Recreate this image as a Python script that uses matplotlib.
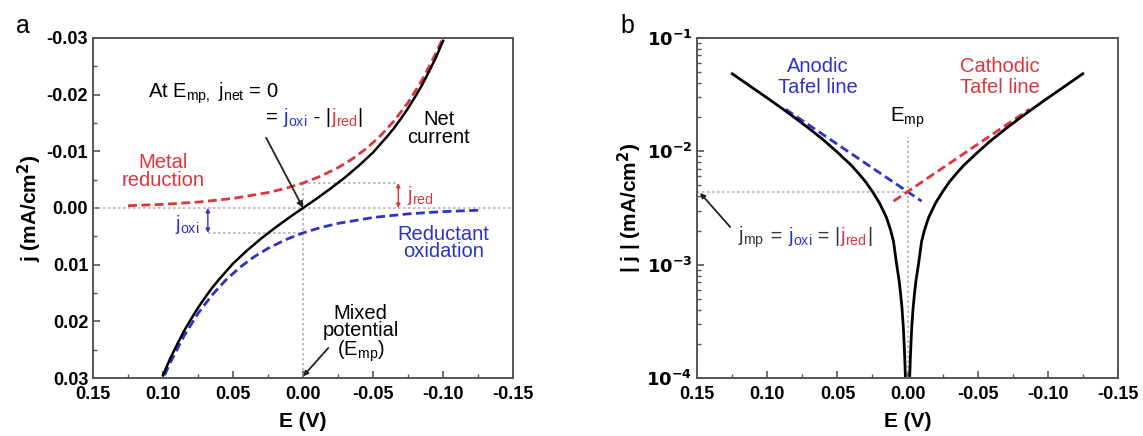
import matplotlib
matplotlib.use("Agg")
import matplotlib.pyplot as plt
from matplotlib.ticker import MultipleLocator, FixedLocator, FixedFormatter, LogLocator, NullFormatter
from matplotlib.offsetbox import TextArea, HPacker, AnnotationBbox

plt.rcParams['font.family'] = ['Liberation Sans', 'DejaVu Sans']
plt.rcParams['mathtext.default'] = 'regular'

RED = '#e0343c'
BLUE = '#2d32c8'
GUIDE = '#b4b4b4'
FS = 14.5

# panel a: partial currents and net current
E_red = [0.125, 0.10, 0.075, 0.05, 0.025, 0.0125, 0.0, -0.0125, -0.025, -0.035, -0.045, -0.055,
         -0.065, -0.075, -0.085, -0.095, -0.10]
j_red = [-0.0004, -0.00064, -0.00104, -0.00168, -0.00272, -0.00346, -0.0044, -0.0056, -0.00712,
         -0.00862, -0.01045, -0.01267, -0.01536, -0.0186, -0.02257, -0.02735, -0.0301]
E_oxi = [-0.125, -0.10, -0.075, -0.05, -0.025, -0.0125, 0.0, 0.0125, 0.025, 0.035, 0.045, 0.055,
         0.065, 0.075, 0.085, 0.095, 0.10]
j_oxi = [0.0004, 0.00064, 0.00104, 0.00168, 0.00272, 0.00346, 0.0044, 0.0056, 0.00712,
         0.00862, 0.01045, 0.01267, 0.01536, 0.0186, 0.02257, 0.02735, 0.0301]
E_net = [0.10, 0.095, 0.09, 0.085, 0.08, 0.075, 0.07, 0.065, 0.06, 0.05, 0.04, 0.03, 0.02, 0.01, 0.0,
         -0.01, -0.02, -0.03, -0.04, -0.05, -0.06, -0.065, -0.07, -0.075, -0.08, -0.085, -0.09,
         -0.095, -0.10]
j_net = [0.0295, 0.0266, 0.0241, 0.0217, 0.0196, 0.0176, 0.0158, 0.0141, 0.0126, 0.0098, 0.0075,
         0.0054, 0.0035, 0.0017, 0.0,
         -0.0017, -0.0035, -0.0054, -0.0075, -0.0098, -0.0126, -0.0141, -0.0158, -0.0176, -0.0196,
         -0.0217, -0.0241, -0.0266, -0.0295]
j_mp = 0.0044

# panel b: |j| of net current on log scale
E_abs = [0.125, 0.11, 0.10, 0.09, 0.08, 0.07, 0.06, 0.05, 0.04, 0.035, 0.03, 0.025, 0.02, 0.015,
         0.012, 0.010, 0.008, 0.006, 0.005, 0.004, 0.003, 0.0025, 0.002, 0.0015, 0.001, 0.0,
         -0.001, -0.0015, -0.002, -0.0025, -0.003, -0.004, -0.005, -0.006, -0.008, -0.010, -0.012,
         -0.015, -0.02, -0.025, -0.03, -0.035, -0.04, -0.05, -0.06, -0.07, -0.08, -0.09, -0.10,
         -0.11, -0.125]
j_abs = [0.0483, 0.0359, 0.0295, 0.0241, 0.0196, 0.0158, 0.0126, 0.0098, 0.0075, 0.0064, 0.0054,
         0.0044, 0.0035, 0.0026, 0.0020, 0.0016, 0.00105, 0.00072, 0.00056, 0.00042, 0.00028,
         0.00021, 0.00015, 0.0001, 0.00005, 0.000001,
         0.00005, 0.0001, 0.00015, 0.00021, 0.00028, 0.00042, 0.00056, 0.00072, 0.00105, 0.0016,
         0.0020, 0.0026, 0.0035, 0.0044, 0.0054, 0.0064, 0.0075, 0.0098, 0.0126, 0.0158, 0.0196,
         0.0241, 0.0295, 0.0359, 0.0483]
E_anodic = [0.087, -0.010]
j_anodic = [0.0235, 0.00363]
E_cathodic = [0.010, -0.087]
j_cathodic = [0.00363, 0.0235]

x_ticks = [0.15, 0.10, 0.05, 0.00, -0.05, -0.10, -0.15]
a_yticks = [-0.03, -0.02, -0.01, 0.00, 0.01, 0.02, 0.03]
b_yticks = [1e-4, 1e-3, 1e-2, 1e-1]
b_ylabels = [r'$\mathbf{10^{-4}}$', r'$\mathbf{10^{-3}}$', r'$\mathbf{10^{-2}}$', r'$\mathbf{10^{-1}}$']


def colored(ax, xy, parts, size=FS):
    boxes = [TextArea(t, textprops=dict(color=c, fontsize=size)) for t, c in parts]
    pack = HPacker(children=boxes, align='baseline', pad=0, sep=0)
    ab = AnnotationBbox(pack, xy, xycoords='data', frameon=False, box_alignment=(0.5, 0.5), pad=0)
    ax.add_artist(ab)


def style_axis(ax):
    for s in ax.spines.values():
        s.set_color('#555555')
        s.set_linewidth(1.4)
    ax.tick_params(which='both', direction='in', top=False, right=False, color='#555555',
                   labelsize=13)
    ax.tick_params(which='major', length=5, width=1.2)
    ax.tick_params(which='minor', length=3, width=1.0)
    ax.tick_params(axis='x', pad=6)
    ax.set_xlim(0.15, -0.15)
    ax.xaxis.set_major_locator(FixedLocator(x_ticks))
    ax.xaxis.set_minor_locator(MultipleLocator(0.025))
    ax.set_xticklabels(['%.2f' % v for v in x_ticks], fontweight='bold')
    ax.set_xlabel('E (V)', fontsize=15, fontweight='bold', labelpad=6)


fig = plt.figure(figsize=(11.43, 4.36), dpi=100)
ax1 = fig.add_axes([0.0814, 0.133, 0.3675, 0.78])
ax2 = fig.add_axes([0.610, 0.133, 0.368, 0.78])

# ---- panel a ----
style_axis(ax1)
ax1.set_ylim(0.03, -0.03)
ax1.yaxis.set_major_locator(FixedLocator(a_yticks))
ax1.yaxis.set_minor_locator(MultipleLocator(0.005))
ax1.set_yticklabels(['%.2f' % v for v in a_yticks], fontweight='bold')
ax1.set_ylabel(r'j (mA/cm$^{\mathbf{2}}$)', fontsize=15, fontweight='bold', labelpad=2)

gl = dict(color=GUIDE, lw=1.2, dashes=(1.5, 1.5))
ax1.axhline(0, **gl)
ax1.plot([0, 0], [-j_mp, 0.03], **gl)
ax1.plot([0, -0.068], [-j_mp, -j_mp], **gl)
ax1.plot([0.068, 0], [j_mp, j_mp], **gl)

ax1.plot(E_red, j_red, color=RED, lw=2, dashes=(3.2, 1.6))
ax1.plot(E_oxi, j_oxi, color=BLUE, lw=2, dashes=(3.2, 1.6))
ax1.plot(E_net, j_net, color='black', lw=1.8)

ax1.annotate('', xy=(-0.068, 0.0), xytext=(-0.068, -j_mp),
             arrowprops=dict(arrowstyle='<|-|>', color=RED, lw=1, mutation_scale=6, shrinkA=0, shrinkB=0))
ax1.text(-0.074, -0.0022, r'j$_{red}$', color=RED, fontsize=FS, ha='left', va='center')
ax1.annotate('', xy=(0.068, 0.0), xytext=(0.068, j_mp),
             arrowprops=dict(arrowstyle='<|-|>', color=BLUE, lw=1, mutation_scale=6, shrinkA=0, shrinkB=0))
ax1.text(0.074, 0.0029, r'j$_{oxi}$', color=BLUE, fontsize=FS, ha='right', va='center')

ax1.text(0.064, -0.0203, r'At E$_{mp,}$ j$_{net}$ = 0', fontsize=FS, ha='center', va='center')
colored(ax1, (-0.008, -0.0160), [('= ', 'black'), (r'j$_{oxi}$', BLUE), (' - |', 'black'),
                                 (r'j$_{red}$', RED), ('|', 'black')])
ax1.annotate('', xy=(0.0, 0.0), xytext=(0.0264, -0.0124),
             arrowprops=dict(arrowstyle='-|>', color='#222222', lw=1.3, mutation_scale=9,
                             shrinkA=0, shrinkB=0))

ax1.text(-0.097, -0.0140, 'Net\ncurrent', fontsize=FS, ha='center', va='center', linespacing=0.9)
ax1.text(0.10, -0.0064, 'Metal\nreduction', fontsize=FS, color=RED, ha='center', va='center',
         linespacing=0.9)
ax1.text(-0.100, 0.0062, 'Reductant\noxidation', fontsize=FS, color=BLUE, ha='center', va='center',
         linespacing=0.9)
ax1.text(-0.041, 0.0222, 'Mixed\npotential\n(E$_{mp}$)', fontsize=FS, ha='center', va='center',
         linespacing=0.9)
ax1.annotate('', xy=(0.0, 0.0297), xytext=(-0.018, 0.0247),
             arrowprops=dict(arrowstyle='-|>', color='#222222', lw=1.3, mutation_scale=7,
                             shrinkA=0, shrinkB=0))
fig.text(0.020, 0.94, 'a', fontsize=18, ha='center', va='center')

# ---- panel b ----
style_axis(ax2)
ax2.set_yscale('log')
ax2.set_ylim(1e-4, 1e-1)
ax2.yaxis.set_major_locator(FixedLocator(b_yticks))
ax2.yaxis.set_major_formatter(FixedFormatter(b_ylabels))
ax2.yaxis.set_minor_locator(LogLocator(base=10, subs=range(2, 10)))
ax2.yaxis.set_minor_formatter(NullFormatter())
ax2.set_ylabel(r'| j | (mA/cm$^{\mathbf{2}}$)', fontsize=15, fontweight='bold', labelpad=2)

ax2.plot([0.15, 0], [j_mp, j_mp], **gl)
ax2.plot([0, 0], [1e-4, 0.0135], **gl)
ax2.plot(E_anodic, j_anodic, color=BLUE, lw=2, dashes=(3.2, 1.6))
ax2.plot(E_cathodic, j_cathodic, color=RED, lw=2, dashes=(3.2, 1.6))
ax2.plot(E_abs, j_abs, color='black', lw=2)

ax2.text(0.064, 0.0453, 'Anodic\nTafel line', fontsize=FS, color=BLUE, ha='center', va='center',
         linespacing=1.1)
ax2.text(-0.066, 0.0453, 'Cathodic\nTafel line', fontsize=FS, color=RED, ha='center', va='center',
         linespacing=1.1)
ax2.text(0.0, 0.0197, r'E$_{mp}$', fontsize=FS, ha='center', va='center')
colored(ax2, (0.073, 0.00175), [(r'j$_{mp}$', '#333333'), (' = ', '#333333'), (r'j$_{oxi}$', BLUE),
                                (' = |', '#333333'), (r'j$_{red}$', RED), ('|', '#333333')])
ax2.annotate('', xy=(0.148, 0.0043), xytext=(0.1265, 0.00215),
             arrowprops=dict(arrowstyle='-|>', color='#222222', lw=1.3, mutation_scale=7,
                             shrinkA=0, shrinkB=0))
fig.text(0.549, 0.94, 'b', fontsize=18, ha='center', va='center')

fig.savefig('out.png', dpi=100)
